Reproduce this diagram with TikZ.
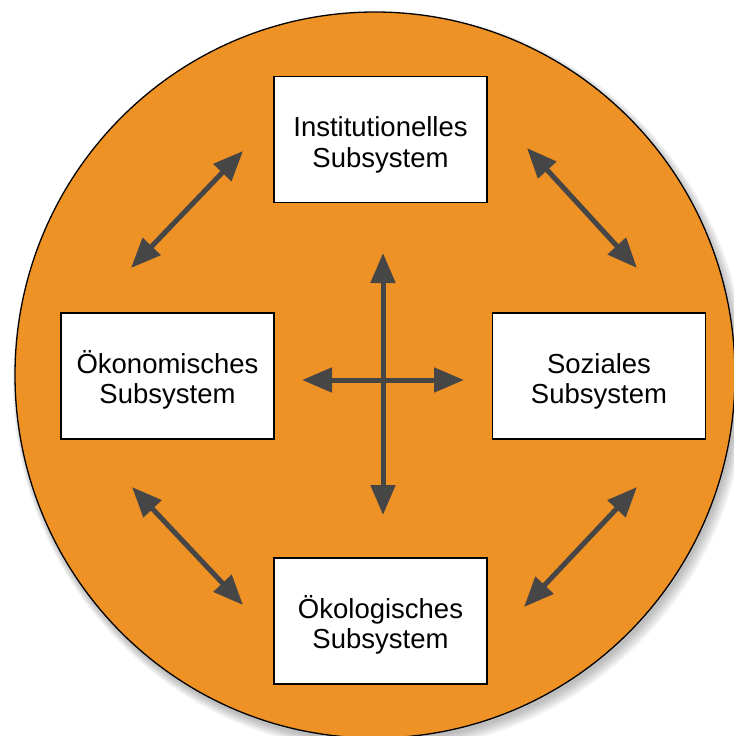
\documentclass[tikz,border=0pt]{standalone}
\usepackage{fontspec}
\setmainfont{Liberation Sans}
\usetikzlibrary{arrows.meta}
\definecolor{orng}{RGB}{239,146,38}
\definecolor{arrgray}{RGB}{70,70,70}
\newcommand\lstrut{\rule{0pt}{24.5bp}}
\begin{document}
\begin{tikzpicture}[x=1bp,y=-1bp,
  sub/.style={draw=black, line width=1.4bp, fill=white, minimum width=213bp, minimum height=126bp,
    align=center, inner sep=0pt, font=\fontsize{27.5bp}{30.5bp}\selectfont},
  link/.style={draw=arrgray, line width=5bp,
    {Triangle[length=30bp,width=24bp]}-{Triangle[length=30bp,width=24bp]}}]
\useasboundingbox (0,0) rectangle (734,736);
\clip (0,0) rectangle (734,736);
% soft shadow
\foreach \i in {0,...,7}
  \fill[black, opacity=0.035] ({377+0.4*\i},{379+0.4*\i}) ellipse [x radius={360+\i}, y radius={363+\i}];
% background disc
\path[fill=orng, draw=black, line width=1.3bp] (375,375) ellipse [x radius=360, y radius=363];
% subsystems
\node[sub] (inst) at (380.5,139.5) {\smash{Institutionelles}\lstrut\\\smash{Subsystem}\lstrut};
\node[sub] (oeko) at (167.5,376) {\smash{Ökonomisches}\lstrut\\\smash{Subsystem}\lstrut};
\node[sub] (soz) at (599,376) {\smash{Soziales}\lstrut\\\smash{Subsystem}\lstrut};
\node[sub] (oekol) at (380.5,621) {\smash{Ökologisches}\lstrut\\\smash{Subsystem}\lstrut};
% arrow end points
\coordinate (c1) at (383,253);
\coordinate (c2) at (383,515);
\coordinate (c3) at (302,380);
\coordinate (c4) at (464,380);
\coordinate (tl1) at (131,268);
\coordinate (tl2) at (243,151);
\coordinate (tr1) at (527,148);
\coordinate (tr2) at (637,268);
\coordinate (bl1) at (132,487);
\coordinate (bl2) at (243,605);
\coordinate (br1) at (637,487);
\coordinate (br2) at (524,607);
% connectors
\draw[link] (c1) -- (c2);
\draw[link] (c3) -- (c4);
\draw[link] (tl1) -- (tl2);
\draw[link] (tr1) -- (tr2);
\draw[link] (bl1) -- (bl2);
\draw[link] (br1) -- (br2);
\end{tikzpicture}
\end{document}
